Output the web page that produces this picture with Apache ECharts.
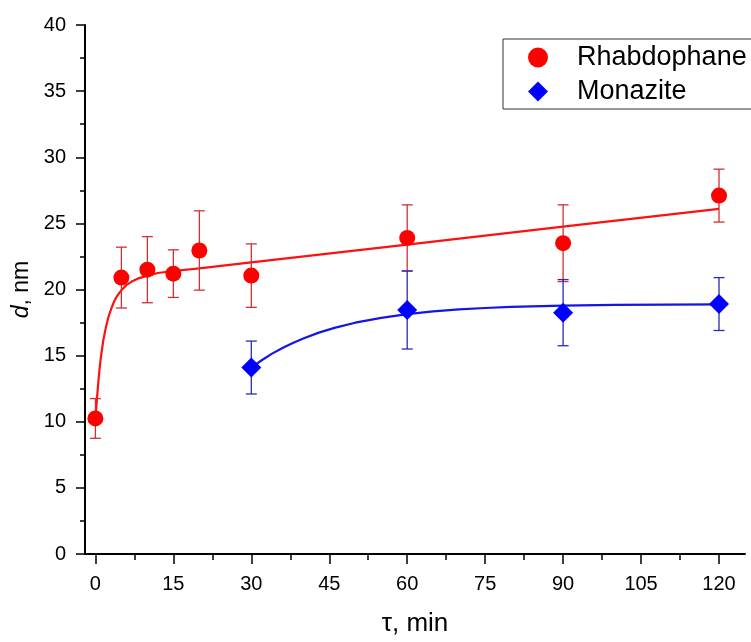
<!DOCTYPE html>
<html>
<head>
<meta charset="utf-8">
<script src="https://cdn.jsdelivr.net/npm/echarts@6/dist/echarts.min.js"></script>
<style>
html,body{margin:0;padding:0;background:#fff;}
#chart{width:751px;height:642px;}
</style>
</head>
<body>
<div id="chart"></div>
<script>
// ---- data ----
const tauR = [0, 5, 10, 15, 20, 30, 60, 90, 120];
const dR   = [10.25, 20.9, 21.5, 21.2, 22.95, 21.05, 23.9, 23.5, 27.1];
const errR = [1.5, 2.3, 2.5, 1.8, 3.0, 2.4, 2.5, 2.9, 2.0];

const tauM = [30, 60, 90, 120];
const dM   = [14.1, 18.45, 18.25, 18.9];
const errM = [2.0, 2.95, 2.5, 2.0];

// fitted curves
const fitRx = [0, 0.25, 0.5, 0.75, 1, 1.5, 2, 2.5, 3, 3.5, 4, 5, 6, 7, 8, 10, 12, 15, 20, 30, 60, 90, 120];
const fitRy = [10.2, 11.5, 12.7, 13.8, 14.7, 16.1, 17.1, 17.9, 18.5, 19.0, 19.4, 19.95, 20.35, 20.6, 20.8, 21.05, 21.25, 21.4, 21.6, 22.05, 23.4, 24.75, 26.1];
const fitMx = [30, 32, 34, 36, 38, 40, 43, 46, 50, 55, 60, 65, 70, 75, 80, 90, 100, 110, 120];
const fitMy = [14.1, 14.65, 15.15, 15.58, 15.96, 16.3, 16.74, 17.1, 17.49, 17.86, 18.14, 18.34, 18.49, 18.6, 18.68, 18.78, 18.83, 18.86, 18.88];

const xMajor = [0, 15, 30, 45, 60, 75, 90, 105, 120];
const xMinor = [7.5, 22.5, 37.5, 52.5, 67.5, 82.5, 97.5, 112.5];
const seriesNames = ['Rhabdophane', 'Monazite'];

// ---- build ----
const zip = (a, b) => a.map((v, i) => [v, b[i]]);
const errData = (x, y, e) => x.map((v, i) => [v, y[i] - e[i], y[i] + e[i]]);

function errRender(color) {
  return function (params, api) {
    const x = api.value(0);
    const lo = api.coord([x, api.value(1)]);
    const hi = api.coord([x, api.value(2)]);
    const hw = 5.5;
    const st = { stroke: color, lineWidth: 1.3 };
    return {
      type: 'group',
      children: [
        { type: 'line', shape: { x1: lo[0], y1: lo[1], x2: hi[0], y2: hi[1] }, style: st },
        { type: 'line', shape: { x1: lo[0] - hw, y1: lo[1], x2: lo[0] + hw, y2: lo[1] }, style: st },
        { type: 'line', shape: { x1: hi[0] - hw, y1: hi[1], x2: hi[0] + hw, y2: hi[1] }, style: st }
      ]
    };
  };
}

const FONT = '"Liberation Sans", Arial, sans-serif';
const chart = echarts.init(document.getElementById('chart'));
chart.setOption({
  animation: false,
  backgroundColor: '#fff',
  textStyle: { fontFamily: FONT, color: '#000' },
  grid: { left: 85, right: 6, top: 25, bottom: 85 },
  legend: {
    data: [{ name: seriesNames[0], icon: 'circle' }, { name: seriesNames[1], icon: 'diamond' }],
    orient: 'vertical',
    left: 503, top: 39,
    padding: [5, 20, 4, 25],
    itemWidth: 20, itemHeight: 20, itemGap: 7,
    borderColor: '#333', borderWidth: 1,
    textStyle: { fontSize: 27, fontFamily: FONT, color: '#000', padding: [0, 0, 0, 24] }
  },
  xAxis: [{
    type: 'value', min: -2, max: 125,
    name: 'τ, min', nameLocation: 'middle', nameGap: 57,
    nameTextStyle: { fontSize: 26, fontFamily: FONT, color: '#000' },
    axisLine: { show: true, onZero: false, lineStyle: { color: '#000', width: 2 } },
    axisTick: { show: true, inside: false, length: 10, customValues: xMajor, lineStyle: { color: '#000', width: 1.5 } },
    axisLabel: { customValues: xMajor, fontSize: 20, margin: 20, color: '#000', fontFamily: FONT },
    splitLine: { show: false }
  }, {
    type: 'value', min: -2, max: 125, position: 'bottom', offset: 0,
    axisLine: { show: false },
    axisTick: { show: true, inside: false, length: 6, customValues: xMinor, lineStyle: { color: '#000', width: 1.5 } },
    axisLabel: { show: false },
    splitLine: { show: false }
  }],
  yAxis: {
    type: 'value', min: 0, max: 40, interval: 5,
    name: '{i|d}, nm', nameLocation: 'middle', nameGap: 52,
    nameTextStyle: { fontSize: 23, fontFamily: FONT, color: '#000', rich: { i: { fontStyle: 'italic', fontSize: 23, fontFamily: FONT } } },
    axisLine: { show: true, onZero: false, lineStyle: { color: '#000', width: 2 } },
    axisTick: { show: true, inside: false, length: 9, lineStyle: { color: '#000', width: 1.5 } },
    minorTick: { show: true, splitNumber: 2, length: 5, lineStyle: { color: '#000', width: 1.5 } },
    axisLabel: { fontSize: 20, margin: 19, color: '#000', fontFamily: FONT },
    splitLine: { show: false }, minorSplitLine: { show: false }
  },
  series: [
    { name: 'fitR', type: 'line', data: zip(fitRx, fitRy), showSymbol: false, smooth: false,
      lineStyle: { color: '#ff1010', width: 2.2 }, z: 1, silent: true },
    { name: 'fitM', type: 'line', data: zip(fitMx, fitMy), showSymbol: false, smooth: false,
      lineStyle: { color: '#1515e6', width: 2.2 }, z: 1, silent: true },
    { name: 'errR', type: 'custom', data: errData(tauR, dR, errR), renderItem: errRender('#d03030'),
      encode: { x: 0, y: [1, 2] }, z: 2, silent: true },
    { name: 'errM', type: 'custom', data: errData(tauM, dM, errM), renderItem: errRender('#2a2ab8'),
      encode: { x: 0, y: [1, 2] }, z: 2, silent: true },
    { name: seriesNames[0], type: 'scatter', data: zip(tauR, dR), symbol: 'circle', symbolSize: 16,
      itemStyle: { color: '#ff0000', opacity: 1 }, z: 3 },
    { name: seriesNames[1], type: 'scatter', data: zip(tauM, dM), symbol: 'diamond', symbolSize: 20,
      itemStyle: { color: '#0000ff', opacity: 1 }, z: 3 }
  ]
});
</script>
</body>
</html>
